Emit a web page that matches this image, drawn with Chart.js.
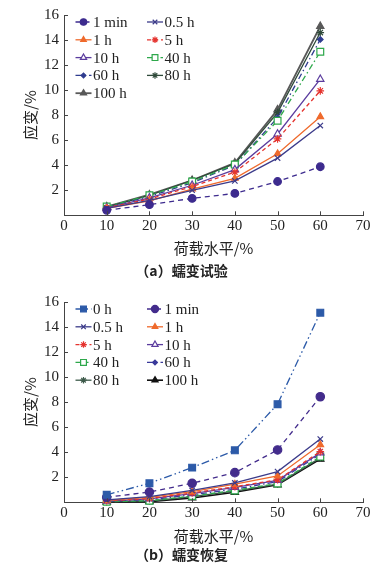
<!DOCTYPE html>
<html><head><meta charset="utf-8">
<script src="https://cdn.jsdelivr.net/npm/chart.js@4/dist/chart.umd.min.js"></script>
<style>
html,body{margin:0;padding:0;background:#fff;}
#wrap{position:relative;width:383px;height:577px;overflow:hidden;}
canvas{position:absolute;left:0;}
</style></head><body>
<div id="wrap">
<canvas id="c1" width="383" height="290" style="top:0"></canvas>
<canvas id="c2" width="383" height="290" style="top:287px"></canvas>
</div>
<script>
// ---------- data ----------
const loadLevels = [10, 20, 30, 40, 50, 60];
const xTickValues = [0, 10, 20, 30, 40, 50, 60, 70];
const yTickValues = [2, 4, 6, 8, 10, 12, 14, 16];

const creepLabels = ['1 min', '0.5 h', '1 h', '5 h', '10 h', '40 h', '60 h', '80 h', '100 h'];
const creep1min = [0.4, 0.85, 1.35, 1.75, 2.7, 3.88];
const creep05h  = [0.55, 1.2, 2.0, 2.75, 4.57, 7.17];
const creep1h   = [0.55, 1.15, 2.1, 2.95, 4.92, 7.88];
const creep5h   = [0.6, 1.3, 2.3, 3.45, 6.1, 9.94];
const creep10h  = [0.6, 1.4, 2.4, 3.65, 6.5, 10.87];
const creep40h  = [0.7, 1.6, 2.7, 4.05, 7.55, 13.06];
const creep60h  = [0.65, 1.5, 2.6, 4.0, 7.8, 14.05];
const creep80h  = [0.65, 1.6, 2.8, 4.12, 8.2, 14.6];
const creep100h = [0.7, 1.65, 2.8, 4.2, 8.44, 15.1];

const recoveryLabels = ['0 h', '1 min', '0.5 h', '1 h', '5 h', '10 h', '40 h', '60 h', '80 h', '100 h'];
const rec0h   = [0.6, 1.52, 2.77, 4.15, 7.84, 15.15];
const rec1min = [0.4, 0.82, 1.52, 2.37, 4.18, 8.43];
const rec05h  = [0.2, 0.45, 0.95, 1.55, 2.45, 5.05];
const rec1h   = [0.15, 0.4, 0.85, 1.45, 2.1, 4.6];
const rec5h   = [0.12, 0.3, 0.75, 1.25, 1.8, 4.05];
const rec10h  = [0.1, 0.28, 0.7, 1.2, 1.75, 3.95];
const rec40h  = [0.05, 0.12, 0.5, 0.95, 1.5, 3.65];
const rec60h  = [0.08, 0.2, 0.6, 1.05, 1.65, 3.85];
const rec80h  = [0.05, 0.1, 0.45, 0.9, 1.45, 3.55];
const rec100h = [0.02, 0.05, 0.35, 0.8, 1.4, 3.45];

// ---------- styles ----------
const DASH = [5, 4], SDASH = [4, 3], DASHDOT = [6, 3, 1.5, 3], DASHDOTDOT = [8, 3, 1.5, 3, 1.5, 3];
const creepStyles = [
  {c: '#3d2b8e', dash: DASH, ps: 'circle', r: 3.8, fill: true},
  {c: '#3c3b8a', dash: [], ps: 'crossRot', r: 3.8, fill: true},
  {c: '#ef6a2c', dash: [], ps: 'triangle', r: 3.8, fill: true},
  {c: '#e5342f', dash: SDASH, ps: 'star', r: 3.8, fill: true},
  {c: '#5b3c9e', dash: [], ps: 'triangle', r: 4.2, fill: false},
  {c: '#2ea84b', dash: DASHDOT, ps: 'rect', r: 4.8, fill: false},
  {c: '#2f3c8f', dash: DASHDOT, ps: 'rectRot', r: 2.8, fill: true},
  {c: '#2f4a3a', dash: [], ps: 'star', r: 3.8, fill: true},
  {c: '#595959', dash: [], ps: 'triangle', r: 4.2, fill: true, w: 1.8}
];
const recoveryStyles = [
  {c: '#2c5aa8', dash: DASHDOTDOT, ps: 'rect', r: 4.8, fill: true},
  {c: '#432c8c', dash: DASH, ps: 'circle', r: 4.2, fill: true},
  {c: '#3c3b8a', dash: [], ps: 'crossRot', r: 3.8, fill: true},
  {c: '#ef6a2c', dash: [], ps: 'triangle', r: 3.8, fill: true},
  {c: '#e5342f', dash: SDASH, ps: 'star', r: 3.8, fill: true},
  {c: '#5b3c9e', dash: [], ps: 'triangle', r: 4.2, fill: false},
  {c: '#2ea84b', dash: [5, 3], ps: 'rect', r: 4.8, fill: false},
  {c: '#3a3a9a', dash: DASHDOT, ps: 'rectRot', r: 2.8, fill: true},
  {c: '#3d5a4a', dash: [], ps: 'star', r: 3.8, fill: true},
  {c: '#111111', dash: [], ps: 'triangle', r: 4.2, fill: true, w: 1.6}
];

const NUM_FONT = {family: '"Liberation Serif", "DejaVu Serif", serif', size: 15};
const CJK = '"Noto Sans CJK SC", sans-serif';
const TXT = '#222';

// ---------- plugins ----------
const innerTicks = {
  id: 'innerTicks',
  afterDraw(chart) {
    const {ctx, scales: {x, y}, chartArea: a} = chart;
    ctx.save();
    ctx.strokeStyle = '#444'; ctx.lineWidth = 1;
    x.ticks.forEach(t => {
      const px = Math.round(x.getPixelForValue(t.value)) + 0.5;
      ctx.beginPath(); ctx.moveTo(px, a.bottom); ctx.lineTo(px, a.bottom - 4); ctx.stroke();
    });
    y.ticks.forEach(t => {
      const py = Math.round(y.getPixelForValue(t.value)) + 0.5;
      ctx.beginPath(); ctx.moveTo(a.left, py); ctx.lineTo(a.left + 4, py); ctx.stroke();
    });
    ctx.restore();
  }
};

const innerLegend = {
  id: 'innerLegend',
  afterDatasetsDraw(chart, args, opts) {
    const ctx = chart.ctx;
    ctx.save();
    chart.data.datasets.forEach((ds, i) => {
      const col = i % 2, row = Math.floor(i / 2);
      const lx = opts.cols[col], ly = opts.y0 + row * opts.dy;
      ctx.strokeStyle = ds.borderColor;
      ctx.lineWidth = ds.borderWidth;
      ctx.setLineDash(ds.borderDash || []);
      ctx.beginPath(); ctx.moveTo(lx, ly); ctx.lineTo(lx + opts.len, ly); ctx.stroke();
      ctx.setLineDash([]);
      ctx.fillStyle = ds.pointBackgroundColor;
      ctx.strokeStyle = ds.pointBorderColor;
      ctx.lineWidth = ds.pointBorderWidth;
      if (Chart.helpers && Chart.helpers.drawPoint) {
        Chart.helpers.drawPoint(ctx, {pointStyle: ds.pointStyle, radius: ds.pointRadius * 0.85, rotation: 0, borderWidth: ds.pointBorderWidth}, lx + opts.len / 2, ly);
      }
      ctx.fillStyle = TXT;
      ctx.font = NUM_FONT.size + 'px ' + NUM_FONT.family;
      ctx.textBaseline = 'middle';
      ctx.textAlign = 'left';
      ctx.fillText(chart.data.datasets[i].label, lx + opts.len + 1.5, ly + 1);
    });
    ctx.restore();
  }
};

function buildDatasets(labels, series, styles) {
  return labels.map((lab, i) => {
    const s = styles[i];
    return {
      label: lab,
      data: loadLevels.map((x, j) => ({x: x, y: series[i][j]})),
      borderColor: s.c,
      borderWidth: s.w || 1.3,
      borderDash: s.dash,
      pointStyle: s.ps,
      pointRadius: s.r,
      pointBackgroundColor: s.fill ? s.c : '#ffffff',
      pointBorderColor: s.c,
      pointBorderWidth: 1.2,
      fill: false,
      tension: 0,
      clip: false
    };
  });
}

function makeChart(id, labels, series, styles, caption, capCenter, xTitleCenter) {
  const H = 290, plotBottom = 215.3;
  const capLH = 14 * 1.2;
  const capPadB = H - capCenter - capLH / 2;
  const capTop = H - capPadB - capLH;
  const xH = capTop - plotBottom;
  const xtLH = 15 * 1.2;
  const xtPadB = capTop - xtLH / 2 - xTitleCenter;
  return new Chart(document.getElementById(id), {
    type: 'line',
    data: {datasets: buildDatasets(labels, series, styles)},
    plugins: [innerTicks, innerLegend],
    options: {
      responsive: false, animation: false, devicePixelRatio: 1,
      events: [],
      layout: {padding: {top: 15, right: 20, left: 0, bottom: 0}},
      plugins: {
        legend: {display: false},
        tooltip: {enabled: false},
        title: {display: true, position: 'bottom', text: caption, color: TXT,
          font: {family: CJK, size: 14, weight: 'bold'}, padding: {top: 0, bottom: capPadB}},
        innerLegend: {cols: [75.5, 147], y0: 22, dy: 17.8, len: 16}
      },
      scales: {
        x: {
          type: 'linear', min: 0, max: 70,
          afterBuildTicks: s => { s.ticks = xTickValues.map(v => ({value: v})); },
          afterFit: s => { s.height = xH; },
          grid: {display: false, drawTicks: false},
          border: {display: true, color: '#444', width: 1},
          ticks: {font: NUM_FONT, color: TXT, padding: 2, maxRotation: 0},
          title: {display: true, text: '荷载水平/%', color: TXT, font: {family: CJK, size: 15},
            padding: {top: 0, bottom: xtPadB}}
        },
        y: {
          type: 'linear', min: 0, max: 16,
          afterBuildTicks: s => { s.ticks = yTickValues.map(v => ({value: v})); },
          afterFit: s => { s.width = 64; },
          grid: {display: false, drawTicks: false},
          border: {display: true, color: '#444', width: 1},
          ticks: {font: NUM_FONT, color: TXT, padding: 5},
          title: {display: true, text: '应变/%', color: TXT, font: {family: CJK, size: 15},
            padding: {top: 21, bottom: 0}}
        }
      }
    }
  });
}

makeChart('c1', creepLabels,
  [creep1min, creep05h, creep1h, creep5h, creep10h, creep40h, creep60h, creep80h, creep100h],
  creepStyles, '（a）蠕变试验', 271, 248);
makeChart('c2', recoveryLabels,
  [rec0h, rec1min, rec05h, rec1h, rec5h, rec10h, rec40h, rec60h, rec80h, rec100h],
  recoveryStyles, '（b）蠕变恢复', 267.5, 249);
</script>
</body></html>
